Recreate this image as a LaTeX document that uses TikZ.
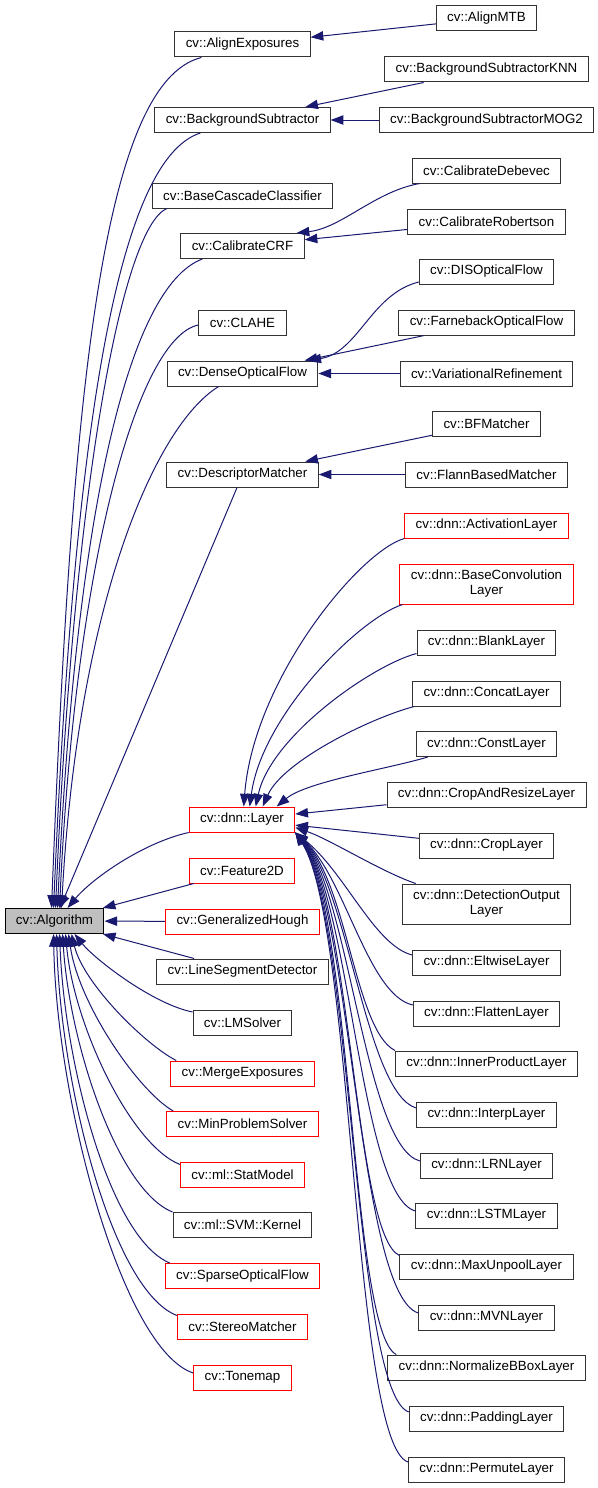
\documentclass[tikz,border=0pt]{standalone}
\usepackage{fontspec}
\setmainfont{Liberation Sans}
\usetikzlibrary{arrows.meta}
\usetikzlibrary{calc}

\definecolor{edgeblue}{HTML}{191970}
\definecolor{basegray}{HTML}{BFBFBF}

\begin{document}
\begin{tikzpicture}[x=0.75pt,y=-0.75pt,line width=0.75pt,
    >={Triangle[length=9.5pt,width=7pt]},
    every node/.style={font=\fontsize{10}{11.25}\selectfont},
    cls/.style={draw=black!80,fill=white,inner xsep=8.2pt,inner ysep=1pt,
      minimum height=18.75pt,align=center},
    trunc/.style={cls,draw=red},
    basecls/.style={cls,draw=black,fill=basegray},
    tall/.style={minimum height=30pt},
    inh/.style={->,color=edgeblue}]

  \useasboundingbox (0,0) rectangle (597,1488);

  \node[basecls] (alg) at (54.5,921) {cv::Algorithm};

  % direct subclasses
  \node[cls] (alignexp) at (242.5,44.5) {cv::AlignExposures};
  \node[cls] (bgsub) at (242.5,120) {cv::BackgroundSubtractor};
  \node[cls] (basecascade) at (242.5,195.5) {cv::BaseCascadeClassifier};
  \node[cls] (calibcrf) at (242.5,246) {cv::CalibrateCRF};
  \node[cls] (clahe) at (242.5,322.5) {cv::CLAHE};
  \node[cls] (denseof) at (242.5,373.5) {cv::DenseOpticalFlow};
  \node[cls] (descmatch) at (242.5,474.5) {cv::DescriptorMatcher};
  \node[trunc] (layer) at (242,819.5) {cv::dnn::Layer};
  \node[trunc] (feat2d) at (242,870.5) {cv::Feature2D};
  \node[trunc] (genhough) at (242.5,921.5) {cv::GeneralizedHough};
  \node[cls] (lsd) at (242.5,971.5) {cv::LineSegmentDetector};
  \node[cls] (lmsolver) at (242.5,1022.5) {cv::LMSolver};
  \node[trunc] (mergeexp) at (242.5,1073.5) {cv::MergeExposures};
  \node[trunc] (minprob) at (242.5,1124) {cv::MinProblemSolver};
  \node[trunc] (statmodel) at (242.5,1174.5) {cv::ml::StatModel};
  \node[cls] (svmkernel) at (242.5,1225) {cv::ml::SVM::Kernel};
  \node[trunc] (sparseof) at (242.5,1276) {cv::SparseOpticalFlow};
  \node[trunc] (stereo) at (242.5,1326.5) {cv::StereoMatcher};
  \node[trunc] (tonemap) at (242.5,1377.5) {cv::Tonemap};

  % second level
  \node[cls] (alignmtb) at (486.5,18.5) {cv::AlignMTB};
  \node[cls] (bgknn) at (486.5,69.5) {cv::BackgroundSubtractorKNN};
  \node[cls] (bgmog2) at (486.5,120) {cv::BackgroundSubtractorMOG2};
  \node[cls] (debevec) at (486.5,170.5) {cv::CalibrateDebevec};
  \node[cls] (robertson) at (486.5,221.5) {cv::CalibrateRobertson};
  \node[cls] (disof) at (486.5,271.5) {cv::DISOpticalFlow};
  \node[cls] (farneback) at (486.5,322.5) {cv::FarnebackOpticalFlow};
  \node[cls] (varref) at (486.5,373.5) {cv::VariationalRefinement};
  \node[cls] (bfmatch) at (486.5,424) {cv::BFMatcher};
  \node[cls] (flann) at (486.5,474.5) {cv::FlannBasedMatcher};
  \node[trunc] (activ) at (486.5,525.5) {cv::dnn::ActivationLayer};
  \node[trunc,tall] (baseconv) at (486.5,584) {cv::dnn::BaseConvolution\\Layer};
  \node[cls] (blank) at (486.5,642.5) {cv::dnn::BlankLayer};
  \node[cls] (concat) at (486.5,693.5) {cv::dnn::ConcatLayer};
  \node[cls] (const) at (486.5,744) {cv::dnn::ConstLayer};
  \node[cls] (cropresize) at (486.5,794.5) {cv::dnn::CropAndResizeLayer};
  \node[cls] (crop) at (486.5,845.5) {cv::dnn::CropLayer};
  \node[cls,tall] (detout) at (486.5,904) {cv::dnn::DetectionOutput\\Layer};
  \node[cls] (eltwise) at (486.5,962.5) {cv::dnn::EltwiseLayer};
  \node[cls] (flatten) at (486.5,1013.5) {cv::dnn::FlattenLayer};
  \node[cls] (innerprod) at (486.5,1063.5) {cv::dnn::InnerProductLayer};
  \node[cls] (interp) at (486.5,1114.5) {cv::dnn::InterpLayer};
  \node[cls] (lrn) at (486.5,1165.5) {cv::dnn::LRNLayer};
  \node[cls] (lstm) at (486.5,1215.5) {cv::dnn::LSTMLayer};
  \node[cls] (maxunpool) at (486.5,1266.5) {cv::dnn::MaxUnpoolLayer};
  \node[cls] (mvn) at (486.5,1317.5) {cv::dnn::MVNLayer};
  \node[cls] (normbbox) at (486.5,1367.5) {cv::dnn::NormalizeBBoxLayer};
  \node[cls] (padding) at (486.5,1418.5) {cv::dnn::PaddingLayer};
  \node[cls] (permute) at (486.5,1469.5) {cv::dnn::PermuteLayer};

  % straight inheritance arrows
  \path[inh]
    (alignmtb) edge (alignexp)
    (bgknn) edge (bgsub)
    (bgmog2) edge (bgsub)
    (robertson) edge (calibcrf)
    (farneback) edge (denseof)
    (varref) edge (denseof)
    (bfmatch) edge (descmatch)
    (flann) edge (descmatch)
    (cropresize) edge (layer)
    (crop) edge (layer)
    (descmatch) edge (alg)
    (feat2d) edge (alg)
    (genhough) edge (alg)
    (lsd) edge (alg);

  \draw[inh] ($(debevec.south west)+(8,0)$) .. controls +(-45,8) and +(45,-5) .. ($(calibcrf.north east)+(-8,0)$);
  \draw[inh] ($(disof.west)+(0,10.5)$) .. controls +(-48,12) and +(50,-8) .. ($(denseof.north east)+(-10,0)$);

  % upper subclasses of cv::Algorithm
  \draw[inh] ($(alignexp.south west)+(27,0)$) .. controls +(-100,25) and +(20,-510) .. ($(alg.north west)+(47,0)$);
  \draw[inh] ($(bgsub.south west)+(46,0)$) .. controls +(-85,27) and +(20,-465) .. ($(alg.north west)+(49,0)$);
  \draw[inh] ($(basecascade.south west)+(15,0)$) .. controls +(-45,20) and +(18,-420) .. ($(alg.north west)+(51,0)$);
  \draw[inh] ($(calibcrf.south west)+(22,0)$) .. controls +(-75,28) and +(18,-390) .. ($(alg.north west)+(53,0)$);
  \draw[inh] ($(clahe.west)+(0,2.5)$) .. controls +(-60,12) and +(16,-350) .. ($(alg.north west)+(55,0)$);
  \draw[inh] ($(denseof.south west)+(52,0)$) .. controls +(-65,40) and +(16,-300) .. ($(alg.north west)+(57,0)$);
  \draw[inh] (layer.south west) .. controls +(-45,10) and +(25,-30) .. ($(alg.north west)+(63,0)$);

  % lower subclasses of cv::Algorithm
  \draw[inh] ($(lmsolver.west)+(0,-10.5)$) .. controls +(-40,-8) and +(20,25) .. ($(alg.south west)+(70,0)$);
  \draw[inh] ($(mergeexp.north west)+(6,0)$) .. controls +(-30,-15) and +(12,50) .. ($(alg.south west)+(67,0)$);
  \draw[inh] ($(minprob.north west)+(7,0)$) .. controls +(-35,-20) and +(10,70) .. ($(alg.south west)+(64,0)$);
  \draw[inh] ($(statmodel.west)+(0,-10)$) .. controls +(-50,-20) and +(8,90) .. ($(alg.south west)+(61,0)$);
  \draw[inh] (svmkernel.north west) .. controls +(-55,-22) and +(7,110) .. ($(alg.south west)+(58,0)$);
  \draw[inh] ($(sparseof.north west)+(5,0)$) .. controls +(-60,-25) and +(5,130) .. ($(alg.south west)+(55,0)$);
  \draw[inh] ($(stereo.north west)+(0,2)$) .. controls +(-65,-25) and +(4,150) .. ($(alg.south west)+(52,0)$);
  \draw[inh] ($(tonemap.west)+(0,-4.5)$) .. controls +(-70,-23) and +(3,170) .. ($(alg.south west)+(49,0)$);

  % subclasses of cv::dnn::Layer
  \draw[inh] (activ.south west) .. controls +(-45,13) and +(10,-127) .. ($(layer.north west)+(55,0)$);
  \draw[inh] ($(baseconv.south west)+(3,0)$) .. controls +(-45,15) and +(12,-90) .. ($(layer.north west)+(61,0)$);
  \draw[inh] ($(blank.south west)+(0,-2)$) .. controls +(-45,12) and +(15,-70) .. ($(layer.north west)+(67,0)$);
  \draw[inh] ($(concat.south west)+(2,0)$) .. controls +(-45,12) and +(20,-45) .. ($(layer.north west)+(74,0)$);
  \draw[inh] ($(const.south west)+(12,0)$) .. controls +(-40,12) and +(30,-25) .. ($(layer.north west)+(88,0)$);
  \draw[inh] ($(detout.north west)+(14,0)$) .. controls +(-35,-12) and +(35,12) .. ($(layer.east)+(0,8)$);
  \draw[inh] ($(eltwise.west)+(0,-7.5)$) .. controls +(-38,-10) and +(50,40) .. (layer.south east);
  \draw[inh] ($(flatten.west)+(0,-8.5)$) .. controls +(-45,-10) and +(50,45) .. (layer.south east);
  \draw[inh] (innerprod.north west) .. controls +(-40,-20) and +(52,50) .. (layer.south east);
  \draw[inh] ($(interp.west)+(0,-6.5)$) .. controls +(-50,-15) and +(53,55) .. (layer.south east);
  \draw[inh] ($(lrn.west)+(0,-4.5)$) .. controls +(-55,-15) and +(54,60) .. (layer.south east);
  \draw[inh] ($(lstm.west)+(0,-4.5)$) .. controls +(-55,-15) and +(55,65) .. (layer.south east);
  \draw[inh] ($(maxunpool.north west)+(0,2)$) .. controls +(-45,-20) and +(56,70) .. (layer.south east);
  \draw[inh] ($(mvn.west)+(0,-4.5)$) .. controls +(-60,-18) and +(56,75) .. (layer.south east);
  \draw[inh] ($(normbbox.north west)+(9,0)$) .. controls +(-45,-22) and +(57,80) .. (layer.south east);
  \draw[inh] ($(padding.west)+(0,-6.5)$) .. controls +(-55,-20) and +(57,85) .. (layer.south east);
  \draw[inh] ($(permute.west)+(0,-7.5)$) .. controls +(-55,-18) and +(58,90) .. (layer.south east);

\end{tikzpicture}
\end{document}
